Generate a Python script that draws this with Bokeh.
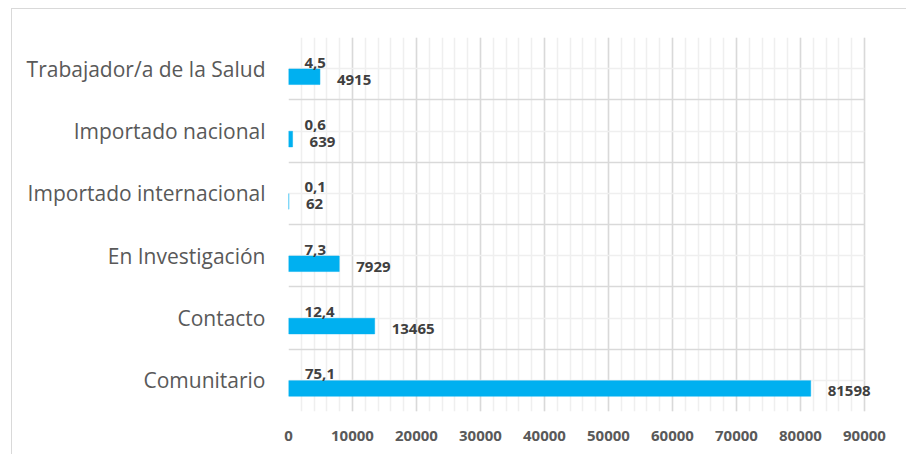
from bokeh.plotting import figure
from bokeh.models import ColumnDataSource, Range1d, FixedTicker, NumeralTickFormatter, LabelSet
from bokeh.transform import dodge
from bokeh.core.properties import value
from bokeh.embed import file_html
from bokeh.resources import INLINE

# ---- data (bottom to top) ----
categories = ["Comunitario", "Contacto", "En Investigación",
              "Importado internacional", "Importado nacional", "Trabajador/a de la Salud"]
cases = [81598, 13465, 7929, 62, 639, 4915]
percent = [75.1, 12.4, 7.3, 0.1, 0.6, 4.5]
x_ticks = [0, 10000, 20000, 30000, 40000, 50000, 60000, 70000, 80000, 90000]

positions = list(range(len(categories)))
src = ColumnDataSource(dict(
    y=positions,
    cases=cases,
    cases_txt=[str(c) for c in cases],
    pct=percent,
    pct_txt=[("%.1f" % v).replace(".", ",") for v in percent],
))

# frame is 590 px wide; the axis maximum (90000) sits at 576 px, leaving room
# for the outside-end label of the longest bar
x_max = x_ticks[-1]
x_end = x_max * 590 / 576

p = figure(width=895, height=446, output_backend="svg", toolbar_location=None,
           x_range=Range1d(0, x_end), y_range=Range1d(-0.5, len(categories) - 0.5),
           min_border_left=276, min_border_right=29, min_border_top=28, min_border_bottom=44,
           styles={"border-top": "1.5px solid #d9d9d9", "border-left": "1.5px solid #d9d9d9",
                   "margin-left": "11px", "margin-top": "8px"})

p.background_fill_color = "white"
p.border_fill_color = "white"
p.outline_line_color = None

# bars (count series)
p.hbar(y=dodge("y", -0.13), right="cases", left=0, height=0.25, source=src,
       fill_color="#00b0f0", line_color="#00b0f0", line_width=0.5)

# count labels
p.add_layout(LabelSet(x="cases", y=dodge("y", -0.13), text="cases_txt", source=src,
                      x_offset=17, y_offset=-3, text_align="left", text_baseline="middle",
                      text_font=value("Open Sans"), text_font_style="bold", text_font_size="15px",
                      text_color="#404040"))

# percent labels (invisible percent series)
p.add_layout(LabelSet(x="pct", y=dodge("y", 0.13), text="pct_txt", source=src,
                      x_offset=16, y_offset=-2, text_align="left", text_baseline="middle",
                      text_font=value("Open Sans"), text_font_style="bold", text_font_size="15px",
                      text_color="#404040"))

# x axis
p.xaxis.ticker = FixedTicker(ticks=x_ticks)
p.xaxis.formatter = NumeralTickFormatter(format="0")
p.xaxis.axis_line_color = None
p.xaxis.major_tick_line_color = None
p.xaxis.minor_tick_line_color = None
p.xaxis.major_label_standoff = 13
p.xaxis.major_label_text_font = "Open Sans"
p.xaxis.major_label_text_font_style = "bold"
p.xaxis.major_label_text_font_size = "15px"
p.xaxis.major_label_text_color = "#595959"

# y axis
p.yaxis.ticker = FixedTicker(ticks=positions)
p.yaxis.major_label_overrides = {i: c for i, c in zip(positions, categories)}
p.yaxis.axis_line_color = None
p.yaxis.major_tick_line_color = None
p.yaxis.minor_tick_line_color = None
p.yaxis.major_label_standoff = 17
p.yaxis.major_label_text_font = "Open Sans"
p.yaxis.major_label_text_font_style = "normal"
p.yaxis.major_label_text_font_size = "21px"
p.yaxis.major_label_text_color = "#595959"

# grids
p.xgrid.ticker = FixedTicker(ticks=x_ticks, minor_ticks=list(range(0, x_max + 1, 2000)))
p.xgrid.grid_line_color = "#d9d9d9"
p.xgrid.grid_line_width = 1.5
p.xgrid.minor_grid_line_color = "#efefef"
p.xgrid.minor_grid_line_width = 1.5

p.ygrid.ticker = FixedTicker(ticks=[i - 0.5 for i in range(len(categories) + 1)],
                             minor_ticks=positions)
p.ygrid.cross_bounds = (0, x_max)
p.ygrid.grid_line_color = "#d9d9d9"
p.ygrid.grid_line_width = 1.5
p.ygrid.minor_grid_line_color = "#efefef"
p.ygrid.minor_grid_line_width = 1.5

open("out.html", "w").write(file_html(p, INLINE))
